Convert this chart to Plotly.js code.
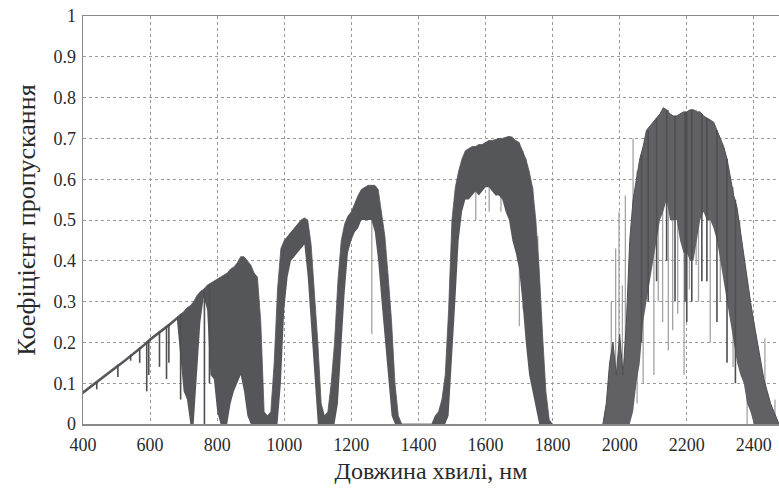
<!DOCTYPE html>
<html>
<head>
<meta charset="utf-8">
<script src="https://cdn.plot.ly/plotly-3.0.1.min.js"></script>
<style>html,body{margin:0;padding:0;background:#fff;}#chart{width:779px;height:491px;}</style>
</head>
<body>
<div id="chart"></div>
<script>
// Wavelength grid (nm) and upper / lower envelope of the transmission spectrum
const wavelength = [400,420,440,460,480,500,520,540,560,580,600,620,640,660,680,700,710,720,730,740,750,760,770,780,790,800,810,820,830,840,850,860,870,880,890,900,910,920,930,940,950,960,970,980,990,1000,1010,1020,1030,1040,1050,1060,1070,1080,1090,1100,1110,1120,1130,1140,1150,1160,1170,1180,1190,1200,1210,1220,1230,1240,1250,1260,1270,1280,1290,1300,1310,1320,1330,1340,1350,1440,1450,1460,1470,1480,1490,1500,1510,1520,1530,1540,1550,1560,1570,1580,1590,1600,1610,1620,1630,1640,1650,1660,1670,1680,1690,1700,1710,1720,1730,1740,1750,1760,1770,1780,1790,1800,1950,1960,1970,1980,1990,2000,2010,2020,2030,2040,2050,2060,2070,2080,2090,2100,2110,2120,2130,2140,2150,2160,2170,2180,2190,2200,2210,2220,2230,2240,2250,2260,2270,2280,2290,2300,2310,2320,2330,2340,2350,2360,2370,2380,2390,2400,2410,2420,2430,2440,2450,2460,2470,2475];

const transHigh = [0.080,0.093,0.105,0.118,0.130,0.143,0.155,0.168,0.180,0.195,0.210,0.222,0.235,0.248,0.262,0.275,0.285,0.290,0.300,0.315,0.325,0.330,0.340,0.345,0.350,0.355,0.360,0.365,0.370,0.380,0.385,0.395,0.410,0.410,0.400,0.390,0.370,0.360,0.250,0.030,0.020,0.030,0.150,0.330,0.430,0.450,0.460,0.470,0.480,0.490,0.500,0.505,0.500,0.440,0.330,0.200,0.050,0.020,0.030,0.100,0.200,0.350,0.450,0.490,0.510,0.520,0.540,0.560,0.575,0.580,0.585,0.585,0.585,0.575,0.520,0.460,0.360,0.250,0.100,0.020,0,0,0.020,0.030,0.060,0.120,0.280,0.500,0.580,0.620,0.650,0.670,0.675,0.680,0.680,0.685,0.685,0.690,0.695,0.695,0.698,0.700,0.700,0.703,0.705,0.703,0.695,0.690,0.670,0.650,0.620,0.580,0.500,0.380,0.220,0.080,0.010,0,0,0.050,0.150,0.200,0.120,0.220,0.120,0.250,0.450,0.550,0.600,0.650,0.680,0.720,0.730,0.740,0.750,0.760,0.775,0.770,0.760,0.755,0.755,0.760,0.765,0.765,0.770,0.770,0.765,0.765,0.755,0.750,0.745,0.740,0.720,0.700,0.680,0.650,0.600,0.560,0.530,0.470,0.410,0.350,0.300,0.250,0.200,0.150,0.110,0.080,0.050,0.030,0.010,0];

const transLow = [0.073,0.086,0.098,0.111,0.123,0.136,0.148,0.161,0.173,0.188,0.203,0.215,0.228,0.241,0.255,0.080,0.060,0,0,0.120,0.250,0.310,0.280,0.120,0.110,0.030,0,0,0,0.050,0.080,0.100,0.120,0.080,0.020,0,0,0,0,0,0,0,0,0,0.100,0.280,0.360,0.400,0.410,0.420,0.430,0.440,0.360,0.250,0.120,0,0,0,0,0,0,0.050,0.180,0.320,0.420,0.450,0.470,0.480,0.500,0.500,0.500,0.500,0.470,0.400,0.300,0.200,0.100,0.020,0,0,0,0,0,0,0,0,0.020,0.150,0.300,0.450,0.520,0.550,0.550,0.560,0.570,0.560,0.570,0.580,0.580,0.570,0.560,0.560,0.550,0.520,0.500,0.450,0.420,0.380,0.300,0.200,0.120,0.080,0.040,0,0,0,0,0,0,0,0,0,0,0,0,0,0,0.030,0.100,0.150,0.250,0.300,0.350,0.400,0.450,0.500,0.520,0.550,0.500,0.500,0.500,0.450,0.420,0.420,0.400,0.400,0.450,0.500,0.520,0.500,0.500,0.480,0.450,0.400,0.350,0.300,0.250,0.200,0.150,0.120,0.100,0.050,0.030,0,0,0,0,0,0,0,0,0,0];

// Individual absorption lines, light grey (x, top, bottom)
const lightLineX      = [1261,1571,1611,1646,1701,1712,1721,1741,1756,1975,1988,1998,2008,2017,2040,2052,2070,2102,2115,2128,2145,2158,2173,2192,2208,2228,2235,2270,2300,2338,2358,2380,2400,2433,2463];
const lightLineTop    = [0.585,0.68,0.695,0.70,0.69,0.67,0.65,0.58,0.46,0.30,0.43,0.52,0.34,0.56,0.70,0.62,0.68,0.74,0.75,0.77,0.77,0.755,0.755,0.76,0.77,0.77,0.765,0.745,0.70,0.58,0.50,0.35,0.25,0.21,0.06];
const lightLineBottom = [0.22,0.50,0.52,0.52,0.24,0.28,0.30,0.20,0.05,0,0,0,0,0,0.10,0.05,0.10,0.12,0.30,0.25,0.18,0.23,0.27,0.12,0.33,0.39,0.30,0.20,0.30,0.14,0.18,0,0,0,0];

// Individual absorption lines, dark grey (x, top, bottom)
const darkLineX      = [441,504,542,569,590,596,628,649,656,691,762,777,2065,2085,2110,2140,2165,2195,2200,2215,2245,2260,2290,2320,2345];
const darkLineTop    = [0.102,0.145,0.170,0.188,0.200,0.205,0.227,0.240,0.245,0.270,0.332,0.343,0.660,0.720,0.750,0.770,0.755,0.765,0.765,0.770,0.760,0.750,0.720,0.650,0.550];
const darkLineBottom = [0.085,0.115,0.155,0.150,0.080,0.120,0.140,0.110,0.150,0.060,0,0.100,0.200,0.300,0.350,0.400,0.300,0.300,0.250,0.300,0.350,0.350,0.250,0.150,0.100];

const xTicks = [400,600,800,1000,1200,1400,1600,1800,2000,2200,2400];

function segments(xs, tops, bots) {
  const x = [], y = [];
  for (let i = 0; i < xs.length; i++) {
    x.push(xs[i], xs[i], null);
    y.push(bots[i], tops[i], null);
  }
  return {x, y};
}

const light = segments(lightLineX, lightLineTop, lightLineBottom);
const dark = segments(darkLineX, darkLineTop, darkLineBottom);
const fillColor = '#55565a';
const fillColorFar = '#616165';

// split at the 1800-1950 gap: the long-wave band is drawn slightly lighter (sparser lines)
const split = wavelength.indexOf(1950);
const wA = wavelength.slice(0, split), wB = wavelength.slice(split);
const hA = transHigh.slice(0, split), hB = transHigh.slice(split);
const lA = transLow.slice(0, split), lB = transLow.slice(split);

const traces = [
  {x: light.x, y: light.y, mode: 'lines', line: {color: '#a3a3a6', width: 1.3}, hoverinfo: 'skip', showlegend: false},
  {x: wA, y: lA, mode: 'lines', line: {color: fillColor, width: 0}, hoverinfo: 'skip', showlegend: false},
  {x: wA, y: hA, mode: 'lines', fill: 'tonexty', fillcolor: fillColor, line: {color: fillColor, width: 0.8}, showlegend: false},
  {x: wB, y: lB, mode: 'lines', line: {color: fillColorFar, width: 0}, hoverinfo: 'skip', showlegend: false},
  {x: wB, y: hB, mode: 'lines', fill: 'tonexty', fillcolor: fillColorFar, line: {color: '#505054', width: 1}, showlegend: false},
  {x: dark.x, y: dark.y, mode: 'lines', line: {color: '#4f4f53', width: 1.6}, hoverinfo: 'skip', showlegend: false}
];

const font = 'Liberation Serif, DejaVu Serif, serif';
const layout = {
  width: 779, height: 491,
  margin: {l: 83, r: 0, t: 16, b: 67},
  paper_bgcolor: '#fff', plot_bgcolor: '#fff',
  font: {family: font, color: '#2a2a2a', size: 18},
  xaxis: {
    range: [400, 2475], tickvals: xTicks, ticktext: xTicks.map(String),
    showgrid: true, gridcolor: '#9a9a9a', griddash: 'dot', gridwidth: 1,
    showline: true, linecolor: '#8a8a8a', linewidth: 1.5, mirror: true,
    ticks: '', zeroline: false, ticklabelstandoff: 4,
    tickfont: {family: font, size: 18, color: '#2a2a2a'},
    title: {text: 'Довжина хвилі, нм', font: {family: font, size: 24, color: '#2a2a2a'}, standoff: 8}
  },
  yaxis: {
    range: [0, 1], dtick: 0.1, tick0: 0,
    showgrid: true, gridcolor: '#9a9a9a', griddash: 'dot', gridwidth: 1,
    showline: true, linecolor: '#8a8a8a', linewidth: 1.5,
    ticks: '', zeroline: false, ticklabelstandoff: 2,
    tickfont: {family: font, size: 18, color: '#2a2a2a'},
    title: {text: 'Коефіцієнт пропускання', font: {family: font, size: 26, color: '#2a2a2a'}, standoff: 10}
  },
  showlegend: false
};

Plotly.newPlot('chart', traces, layout, {displayModeBar: false, staticPlot: true});
</script>
</body>
</html>
